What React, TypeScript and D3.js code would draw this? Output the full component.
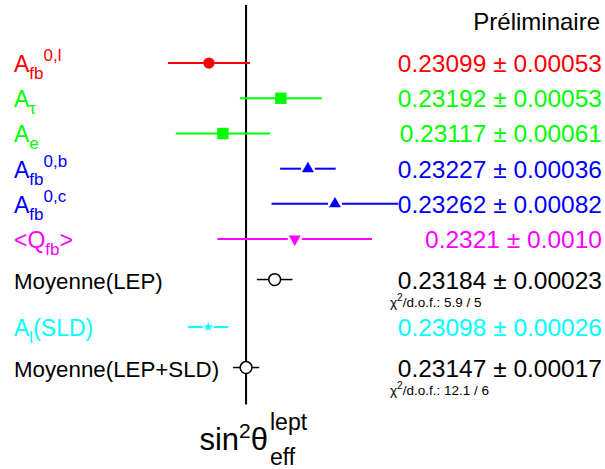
import * as d3 from 'd3'

// measurements, top to bottom
const names = ['Afb_l', 'Atau', 'Ae', 'Afb_b', 'Afb_c', 'Qfb', 'LEP', 'SLD', 'LEPSLD']
const values = [0.23099, 0.23192, 0.23117, 0.23227, 0.23262, 0.2321, 0.23184, 0.23098, 0.23147]
const errors = [0.00053, 0.00053, 0.00061, 0.00036, 0.00082, 0.0010, 0.00023, 0.00026, 0.00017]
const decimals = [5, 5, 5, 5, 5, 4, 5, 5, 5]
const rowPos = [0, 1, 2, 3, 4, 5, 6.15, 7.5, 8.65]
const chi2 = ['', '', '', '', '', '', '5.9 / 5', '', '12.1 / 6']
const average = 0.23147

type Part = { t: string; s?: 'sub' | 'sup' }
const labels: Part[][] = [
  [{ t: 'A' }, { t: 'fb', s: 'sub' }, { t: '0,l', s: 'sup' }],
  [{ t: 'A' }, { t: 'τ', s: 'sub' }],
  [{ t: 'A' }, { t: 'e', s: 'sub' }],
  [{ t: 'A' }, { t: 'fb', s: 'sub' }, { t: '0,b', s: 'sup' }],
  [{ t: 'A' }, { t: 'fb', s: 'sub' }, { t: '0,c', s: 'sup' }],
  [{ t: '<Q' }, { t: 'fb', s: 'sub' }, { t: '>' }],
  [{ t: 'Moyenne(LEP)' }],
  [{ t: 'A' }, { t: 'l', s: 'sub' }, { t: '(SLD)' }],
  [{ t: 'Moyenne(LEP+SLD)' }],
]

const colors: Record<string, string> = {
  Afb_l: '#ff0000', Atau: '#00ff00', Ae: '#00ff00', Afb_b: '#0000ff', Afb_c: '#0000ff',
  Qfb: '#ff00ff', LEP: '#000000', SLD: '#00ffff', LEPSLD: '#000000',
}

const W = 605
const H = 469
const font = '"Liberation Sans", Arial, Helvetica, sans-serif'

function markerFor(name: string) {
  switch (name) {
    case 'Afb_l': return { type: d3.symbolCircle, size: 100, rot: 0, open: false, gap: 0 }
    case 'Atau':
    case 'Ae': return { type: d3.symbolSquare, size: 130, rot: 0, open: false, gap: 0 }
    case 'Afb_b':
    case 'Afb_c': return { type: d3.symbolTriangle, size: 62, rot: 0, open: false, gap: 7 }
    case 'Qfb': return { type: d3.symbolTriangle, size: 62, rot: 180, open: false, gap: 7 }
    case 'SLD': return { type: d3.symbolStar, size: 28, rot: 0, open: false, gap: 5.5 }
    default: return { type: d3.symbolCircle, size: 110, rot: 0, open: true, gap: 6 }
  }
}

export default function App() {
  const x = d3.scaleLinear().domain([0.2283, 0.2361]).range([1, 604])
  const y = d3.scaleLinear().domain([-1.65, 9.7]).range([5, 404.5])
  const [y0, y1] = y.range()

  return (
    <svg width={W} height={H} style={{ position: 'absolute', left: 0, top: 0, background: '#fff' }}
      fontFamily={font}>
      <rect width={W} height={H} fill="#fff" />
      <line x1={x(average)} x2={x(average)} y1={y0} y2={y1} stroke="#000" strokeWidth={2} />

      <text x={600} y={30} fontSize={24} textAnchor="end" fill="#000">Préliminaire</text>

      {names.map((n, i) => {
        const c = colors[n]
        const m = markerFor(n)
        const cy = y(rowPos[i])
        const cx = x(values[i])
        const lo = x(values[i] - errors[i])
        const hi = x(values[i] + errors[i])
        const path = d3.symbol().type(m.type).size(m.size)() || ''
        const sw = c === '#000000' ? 1.5 : 2
        const fmt = d3.format(`.${decimals[i]}f`)
        return (
          <g key={n}>
            <line x1={lo} x2={cx - m.gap} y1={cy} y2={cy} stroke={c} strokeWidth={sw} />
            <line x1={cx + m.gap} x2={hi} y1={cy} y2={cy} stroke={c} strokeWidth={sw} />
            <path d={path} transform={`translate(${cx},${cy}) rotate(${m.rot})`}
              fill={m.open ? '#fff' : c} stroke={m.open ? c : 'none'} strokeWidth={1.5} />

            <text x={14} y={cy + 9} fontSize={22.5} fill={c}>
              {labels[i].map((p, k) => (
                <tspan key={k}
                  fontSize={p.s ? 17 : 23}
                  dy={p.s === 'sub' ? 7 : p.s === 'sup' ? (labels[i][k - 1]?.s === 'sub' ? -18 : -11) : (labels[i][k - 1]?.s === 'sub' ? -7 : 0)}
                  style={labels[i].length === 1 ? { fontSize: 22.3 } : undefined}
                >{p.t}</tspan>
              ))}
            </text>

            <text x={602} y={cy + 9} fontSize={24.5} textAnchor="end" fill={c}>
              {`${fmt(values[i])} ± ${fmt(errors[i])}`}
            </text>
            {chi2[i] && (
              <text x={390} y={cy + 27} fontSize={13.5} fill="#000">
                χ<tspan fontSize={10} dy={-6}>2</tspan><tspan dy={6}>/d.o.f.: {chi2[i]}</tspan>
              </text>
            )}
          </g>
        )
      })}

      <text x={268} y={450} fontSize={31} textAnchor="end" fill="#000">
        sin<tspan fontSize={21} dy={-12}>2</tspan><tspan dy={12}>θ</tspan>
      </text>
      <text x={270} y={430} fontSize={23} fill="#000">lept</text>
      <text x={270} y={465} fontSize={23} fill="#000">eff</text>
    </svg>
  )
}
